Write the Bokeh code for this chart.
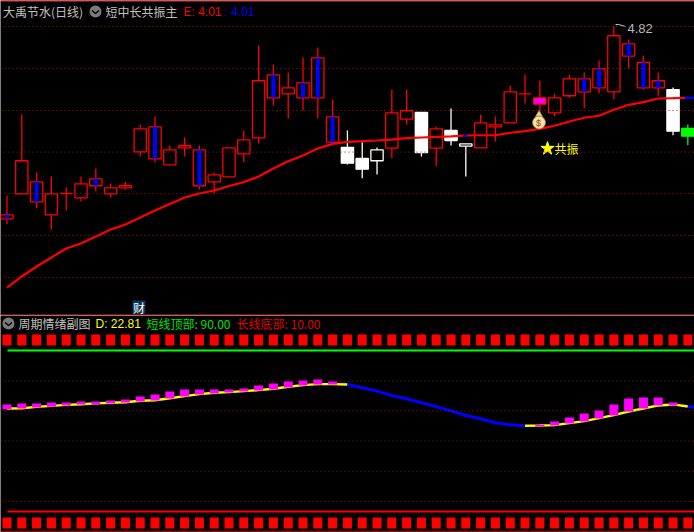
from bokeh.plotting import figure
from bokeh.layouts import column
from bokeh.models import Label, Span
from bokeh.embed import file_html
from bokeh.resources import INLINE

# ---- price candles (one entry per trading day) ----
high = [2.893,3.816,3.155,3.110,2.984,3.110,3.201,3.030,3.049,3.702,3.794,3.463,3.554,3.463,3.155,3.437,
        3.634,4.603,4.386,4.295,4.466,4.580,3.987,3.634,3.501,3.440,4.101,4.101,3.839,3.680,3.885,3.482,
        3.816,3.794,4.147,4.272,4.204,4.052,4.269,4.295,4.432,4.820,4.671,4.486,4.295,4.124,3.702]
top  = [2.673,3.289,3.049,2.912,2.916,3.026,3.083,2.981,3.004,3.653,3.676,3.414,3.460,3.414,3.129,3.437,
        3.528,4.201,4.269,4.121,4.178,4.463,3.790,3.440,3.315,3.414,3.836,3.859,3.839,3.653,3.634,3.482,
        3.722,3.699,4.075,4.052,4.007,4.007,4.223,4.223,4.337,4.714,4.622,4.409,4.201,4.101,3.657]
bot  = [2.627,2.912,2.821,2.673,2.916,2.867,3.004,2.912,2.981,3.391,3.311,3.243,3.437,3.004,3.049,3.106,
        3.368,3.551,4.007,4.052,4.007,4.007,3.501,3.261,3.193,3.289,3.432,3.763,3.383,3.432,3.520,3.455,
        3.437,3.676,3.722,4.052,3.934,3.836,4.030,4.075,4.121,4.075,4.481,4.121,4.121,3.626,3.569]
low  = [2.566,2.912,2.745,2.505,2.722,2.825,2.939,2.870,2.961,3.338,3.269,3.243,3.338,2.961,2.916,3.106,
        3.273,3.486,3.919,3.771,3.862,3.771,3.501,3.246,3.090,3.132,3.318,3.702,3.338,3.227,3.463,3.110,
        3.437,3.509,3.722,3.942,3.843,3.797,4.007,3.888,4.056,3.987,4.344,4.101,4.030,3.580,3.466]
kind = ["blue","up","blue","up","up","up","blue","up","up","up","blue","up","up","blue","up","up",
        "up","up","blue","up","blue","blue","blue","white","white","hollow","up","up","white","up","white","hollow",
        "up","up","up","up","magenta","up","up","blue","blue","up","blue","blue","blue","white","green"]
ma = [1.844,1.970,2.084,2.186,2.289,2.346,2.426,2.505,2.562,2.642,2.722,2.796,2.870,2.916,2.950,3.001,
      3.046,3.110,3.201,3.284,3.349,3.429,3.482,3.505,3.512,3.520,3.531,3.546,3.554,3.562,3.566,3.577,
      3.580,3.580,3.608,3.626,3.653,3.688,3.737,3.779,3.802,3.870,3.927,3.957,3.999,4.002,4.007]
price_grid = [4.820,4.341,3.862,3.388,2.916,2.437,1.958]

# ---- sub-pane series ----
mood = [61.2,61.3,62.0,62.5,63.0,63.3,63.7,64.0,64.3,65.0,65.3,66.3,67.3,68.3,69.0,69.3,69.8,70.3,71.0,72.0,
        72.8,73.3,73.3,73.1,71.5,69.8,67.6,66.0,64.0,62.2,60.0,57.7,56.1,54.1,53.1,52.6,52.7,52.9,53.9,54.9,
        56.4,57.9,59.7,61.2,62.7,63.2,62.2]
bar_a_x = list(range(23))
bar_a_top = [63.2,63.7,63.7,64.2,64.2,64.7,64.7,65.15,65.7,67.1,68.1,69.6,70.6,70.6,70.6,70.6,71.1,72.6,73.6,74.6,75.1,75.6,74.6]
bar_a_bot = [60.8,61.2,61.7,62.0,62.7,63.2,63.2,63.7,64.2,64.7,65.2,66.2,67.1,68.1,68.6,69.1,69.6,70.1,70.6,71.6,72.6,73.1,73.1]
bar_b_x = list(range(36, 46))
bar_b_top = [53.1,54.7,56.7,58.7,60.2,63.2,66.2,66.6,66.6,64.2]
bar_b_bot = [52.2,52.7,53.7,54.7,56.2,57.7,59.7,61.2,62.7,62.7]
top_level, bottom_level = 90, 10
sub_grid = [74.8,60.0,45.0,30.0,15.0]
strip_top = (92.5, 98.0)
strip_bottom = (1.55, 7.0)

days = list(range(len(high)))
X0, X1 = -0.439, 46.45
CJK = "Noto Sans CJK SC"
LAT = "Liberation Sans"
BG = "#000000"
RED = "#ff0000"
GRID = "#a01c1c"

def mk(h, y0, y1):
    f = figure(width=694, height=h, x_range=(X0, X1), y_range=(y0, y1),
               output_backend="svg", toolbar_location=None, min_border=0,
               background_fill_color=BG, border_fill_color=BG, outline_line_color=None)
    f.axis.visible = False
    f.grid.visible = False
    return f

def lab(f, h, x, y, text, color, size=12, font=CJK):
    f.add_layout(Label(x=x, y=h - y, x_units="screen", y_units="screen", text=text, text_color=color,
                       text_font=font, text_font_size=f"{size}px", text_baseline="middle"))

H1, H2 = 315, 217
p = mk(H1, 1.525, 5.116)
q = mk(H2, -0.44, 107.39)
py = lambda px: 5.116 - 0.0114 * px      # decoration placement only
ix = lambda px: (px - 6.5) / 14.8

# main pane
for g in price_grid:
    p.add_layout(Span(location=g, dimension="width", line_color=GRID, line_width=1, line_dash="1 3"))
p.add_layout(Span(location=py(1), dimension="width", line_color="#b00000", line_width=1))
p.add_layout(Span(location=py(314.4), dimension="width", line_color="#d00000", line_width=1.2))

edge = {"up": RED, "blue": RED, "magenta": RED, "white": "#ffffff", "hollow": "#ffffff", "green": "#00ff00"}
fill = {"up": BG, "blue": BG, "magenta": "#ff00ff", "white": "#ffffff", "hollow": BG, "green": "#00ff00"}
edges = [edge[k] for k in kind]
fills = [fill[k] for k in kind]
p.segment(days, high, days, low, line_color=edges, line_width=1.3)
p.vbar(x=days, top=top, bottom=bot, width=0.83, fill_color=fills, line_color=edges, line_width=1.3)
bl = [i for i in days if kind[i] == "blue"]
p.vbar(x=bl, top=[top[i] for i in bl], bottom=[bot[i] for i in bl], width=0.27, fill_color="#0000ff", line_color=None)
p.line(days, ma, line_color=RED, line_width=2.2)
p.line([45.8, X1], [ma[46], ma[46]], line_color="#0000ff", line_width=2.2)
p.line([30.85, 31.1], [ma[31], ma[31]], line_color="#0000ff", line_width=2.2)

# high marker
p.line([ix(615), ix(618), ix(625)], [py(24), py(24), py(26)], line_color="#c8c8c8", line_width=1)
lab(p, H1, 627, 28, "4.82", "#b8b8b8", 13, LAT)

# money bag
p.scatter([ix(538.5)], [py(114.5)], marker="triangle", size=8, fill_color="#f0d890", line_color="#9a7a30", line_width=0.8)
p.scatter([ix(538.5)], [py(122)], marker="circle", size=13, fill_color="#f5e2a8", line_color="#9a7a30", line_width=0.8)
lab(p, H1, 535.5, 122, "$", "#a03c10", 9, LAT)

# resonance mark
p.scatter([ix(547)], [py(148)], marker="star", size=14, fill_color="#ffff00", line_color="#ffff00")
lab(p, H1, 554, 148, "共振", "#ffff00", 12)

# finance tag
p.quad(left=[ix(132)], right=[ix(145)], top=[py(300)], bottom=[py(313)], fill_color="#0a3558", line_color=None)
lab(p, H1, 132.5, 306.5, "财", "#ffffff", 12)

# header row
p.scatter([ix(95)], [py(11)], marker="circle", size=12, fill_color="#7a7a7a", line_color=None)
p.line([ix(91.5), ix(95), ix(98.5)], [py(10), py(13), py(10)], line_color=BG, line_width=1.4)
lab(p, H1, 2.5, 11, "大禹节水(日线)", "#c0c0c0", 12)
lab(p, H1, 105, 11, "短中长共振主", "#c0c0c0", 12)
lab(p, H1, 183, 11, "E: 4.01", RED, 12, LAT)
lab(p, H1, 224, 11, ": 4.01", "#0000ff", 12, LAT)

# sub pane
for g in sub_grid:
    q.add_layout(Span(location=g, dimension="width", line_color=GRID, line_width=1, line_dash="1 3"))
for lo, hi in (strip_top, strip_bottom):
    q.vbar(x=days, top=[hi] * len(days), bottom=[lo] * len(days), width=0.61, fill_color=RED, line_color=None)
q.line([ix(7), X1], [top_level, top_level], line_color="#00ff00", line_width=2)
q.line([ix(7), X1], [bottom_level, bottom_level], line_color=RED, line_width=2)
q.add_layout(Span(location=0.0, dimension="width", line_color="#d00000", line_width=1))
q.line(days[:24], mood[:24], line_color="#ffff00", line_width=2.4)
q.line(days[35:47], mood[35:47], line_color="#ffff00", line_width=2.4)
q.line(days[23:36], mood[23:36], line_color="#0000ff", line_width=3)
q.line([46, X1], [mood[46], mood[46] - 0.3], line_color="#0000ff", line_width=3)
q.vbar(x=bar_a_x, top=bar_a_top, bottom=bar_a_bot, width=0.61, fill_color="#ff00ff", line_color=None)
q.vbar(x=bar_b_x, top=bar_b_top, bottom=bar_b_bot, width=0.61, fill_color="#ff00ff", line_color=None)

q.scatter([ix(8)], [90 - 0.4969 * (323 - 350)], marker="circle", size=12, fill_color="#7a7a7a", line_color=None)
q.line([ix(4.5), ix(8), ix(11.5)], [90 - 0.4969 * (322 - 350), 90 - 0.4969 * (325 - 350), 90 - 0.4969 * (322 - 350)],
       line_color=BG, line_width=1.4)
lab(q, H2, 18, 8, "周期情绪副图", "#c0c0c0", 12)
lab(q, H2, 95, 8, "D: 22.81", "#ffff00", 12, LAT)
lab(q, H2, 146, 8, "短线顶部: 90.00", "#00e000", 12)
lab(q, H2, 236, 8, "长线底部: 10.00", "#e00000", 12)

page = column(p, q, spacing=0, styles={"position": "absolute", "left": "0px", "top": "0px"})
open("out.html", "w").write(file_html(page, INLINE))
